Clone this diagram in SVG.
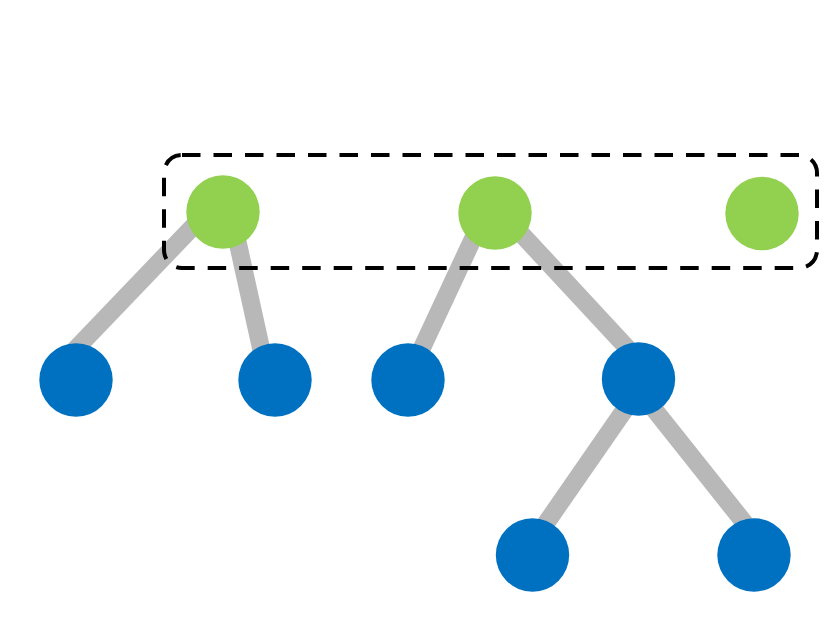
<svg xmlns="http://www.w3.org/2000/svg" width="832" height="620" viewBox="0 0 832 620">
<style>
.edge{stroke:#b8b8b8;stroke-width:18;fill:none}
.green{fill:#92d050}
.blue{fill:#0070c0}
.group{fill:none;stroke:#000;stroke-width:4;stroke-dasharray:18.5 13}
</style>
<rect width="832" height="620" fill="#fff"/>
<g id="connectors">
<line class="edge" x1="207" y1="212" x2="46" y2="380"/>
<line class="edge" x1="231" y1="212" x2="268" y2="380"/>
<line class="edge" x1="485" y1="213" x2="407" y2="380"/>
<line class="edge" x1="502" y1="213" x2="656" y2="379"/>
<line class="edge" x1="646" y1="379" x2="524" y2="555"/>
<line class="edge" x1="630" y1="379" x2="770" y2="555"/>
</g>
<rect id="selection" class="group" x="164" y="155" width="653" height="113" rx="18" ry="18"/>
<g id="g1"><circle class="green" cx="223" cy="212" r="36.7"/></g>
<g id="g2"><circle class="green" cx="495" cy="213" r="36.7"/></g>
<g id="g3"><circle class="green" cx="762" cy="213.5" r="36.7"/></g>
<g id="b1"><circle class="blue" cx="76" cy="380" r="36.7"/></g>
<g id="b2"><circle class="blue" cx="275" cy="380" r="36.7"/></g>
<g id="b3"><circle class="blue" cx="408" cy="380" r="36.7"/></g>
<g id="b4"><circle class="blue" cx="638.5" cy="379" r="36.7"/></g>
<g id="b5"><circle class="blue" cx="532.5" cy="555" r="36.7"/></g>
<g id="b6"><circle class="blue" cx="754" cy="555" r="36.7"/></g>
</svg>
